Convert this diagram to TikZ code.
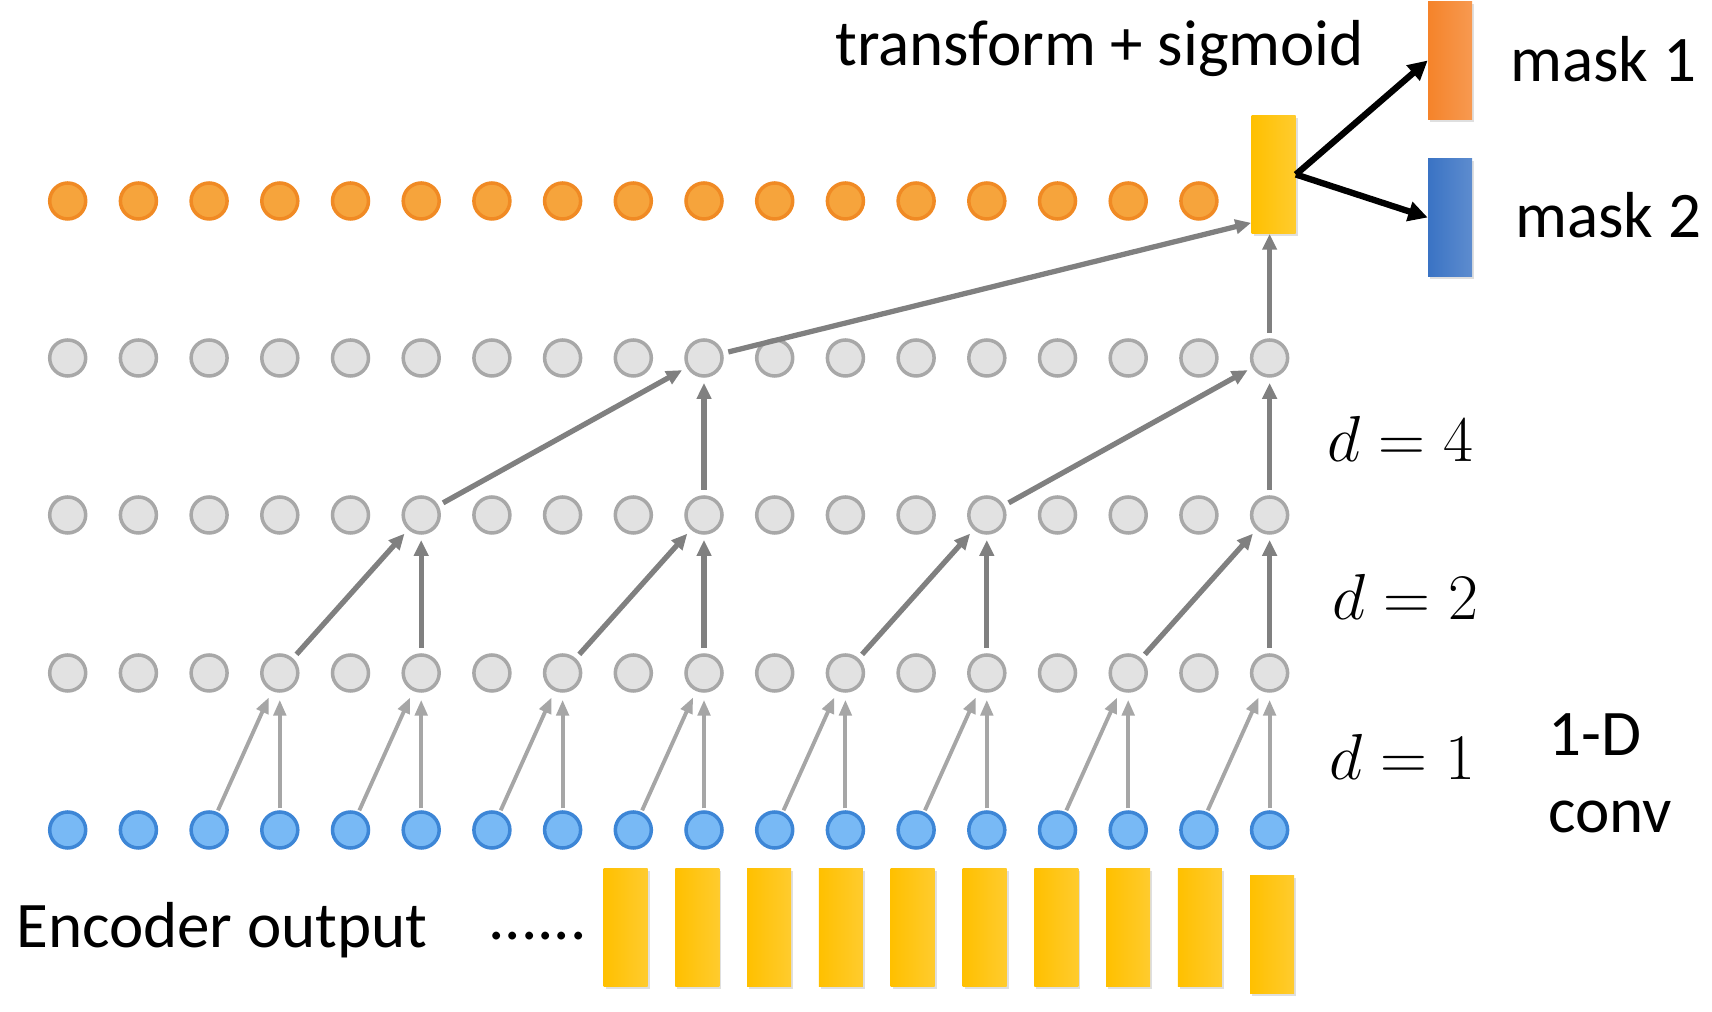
\documentclass[tikz,border=0pt]{standalone}
\usepackage{fix-cm}
\usepackage{fontspec}
\setmainfont{Carlito}
\usepackage{tikz}
\usetikzlibrary{arrows.meta,shadows}

\definecolor{dotgray}{HTML}{E2E2E2}
\definecolor{rimgray}{HTML}{A8A8A8}
\definecolor{dotblue}{HTML}{78B9F5}
\definecolor{rimblue}{HTML}{3D86D6}
\definecolor{dotorange}{HTML}{F6A43C}
\definecolor{rimorange}{HTML}{F08A24}
\definecolor{baryellow}{HTML}{FFC000}
\definecolor{maskorange}{HTML}{F5832A}
\definecolor{maskblue}{HTML}{3A73C4}
\definecolor{linkgray}{HTML}{808080}
\definecolor{linklight}{HTML}{A6A6A6}

\tikzset{
    unitdot/.style={circle, inner sep=0pt, minimum size=0.72cm, line width=2pt},
    hidunit/.style={unitdot, fill=dotgray, draw=rimgray},
    inunit/.style={unitdot, fill=dotblue, draw=rimblue},
    outunit/.style={unitdot, fill=dotorange, draw=rimorange},
    encbar/.style={rectangle, inner sep=0pt, minimum width=0.88cm, minimum height=2.36cm,
        left color=#1, right color=#1!82!white,
        drop shadow={shadow xshift=0.04cm, shadow yshift=-0.05cm, opacity=0.25}},
    link/.style={draw=linkgray, line width=3pt, -{Triangle[length=9pt,width=8pt]},
        shorten >=3pt, shorten <=3pt},
    linkone/.style={draw=linklight, line width=2.2pt, -{Triangle[length=9pt,width=7pt]},
        shorten >=4pt, shorten <=1pt},
    split/.style={draw=black, line width=3.6pt, -{Triangle[length=11pt,width=11pt]}},
    lbl/.style={font=\fontsize{37}{44}\selectfont, inner sep=0pt}
}

\begin{document}
\begin{tikzpicture}

    \useasboundingbox (0,0) rectangle (34.24,20.24);

    \foreach \i in {0,...,17} {
        \node[inunit] (in-\i) at ({1.354+1.414*\i},3.64) {};
        \node[hidunit] (ha-\i) at ({1.354+1.414*\i},6.78) {};
        \node[hidunit] (hb-\i) at ({1.354+1.414*\i},9.94) {};
        \node[hidunit] (hc-\i) at ({1.354+1.414*\i},13.08) {};
    }
    \foreach \i in {0,...,16}
        \node[outunit] (out-\i) at ({1.354+1.414*\i},16.22) {};

    % dilated convolutions
    \foreach \j in {3,5,...,17} {
        \pgfmathtruncatemacro\k{\j-1}
        \draw[linkone] (in-\k) -- (ha-\j);
        \draw[linkone] (in-\j) -- (ha-\j);
    }
    \foreach \j in {5,9,13,17} {
        \pgfmathtruncatemacro\k{\j-2}
        \draw[link] (ha-\k) -- (hb-\j);
        \draw[link] (ha-\j) -- (hb-\j);
    }
    \foreach \j in {9,17} {
        \pgfmathtruncatemacro\k{\j-4}
        \draw[link] (hb-\k) -- (hc-\j);
        \draw[link] (hb-\j) -- (hc-\j);
    }

    \node[encbar=baryellow] (trans) at (25.47,16.75) {};
    \node[encbar=maskorange] (mask1) at (29.0,19.03) {};
    \node[encbar=maskblue] (mask2) at (29.0,15.89) {};

    \draw[link, shorten >=0pt] (hc-9) -- ([yshift=0.22cm]trans.south west);
    \draw[link, shorten >=0pt] (hc-17) -- (hc-17 |- trans.south);
    \draw[split] (trans.east) -- (mask1.west);
    \draw[split] (trans.east) -- (mask2.west);

    \foreach \k in {0,...,8}
        \node[encbar=baryellow] (enc-\k) at ({12.51+1.436*\k},1.68) {};
    \node[encbar=baryellow] (enc-9) at (25.44,1.54) {};

    \node[lbl, anchor=base west] (enclbl) at (0.32,1.28) {Encoder output};
    \node[lbl, anchor=base west] (dots) at (9.76,1.44) {......};
    \node[lbl, anchor=base west] (translbl) at (16.7,18.93) {transform + sigmoid};
    \node[lbl, anchor=base west] (m1lbl) at (30.2,18.6) {mask 1};
    \node[lbl, anchor=base west] (m2lbl) at (30.3,15.48) {mask 2};

    \node[lbl, anchor=base west] (d4) at (26.54,11.0) {$d=4$};
    \node[lbl, anchor=base west] (d2) at (26.64,7.84) {$d=2$};
    \node[lbl, anchor=base west] (d1) at (26.58,4.64) {$d=1$};
    \node[lbl, anchor=base west, align=left] (convlbl) at (30.96,3.58) {1-D\\conv};

\end{tikzpicture}
\end{document}
